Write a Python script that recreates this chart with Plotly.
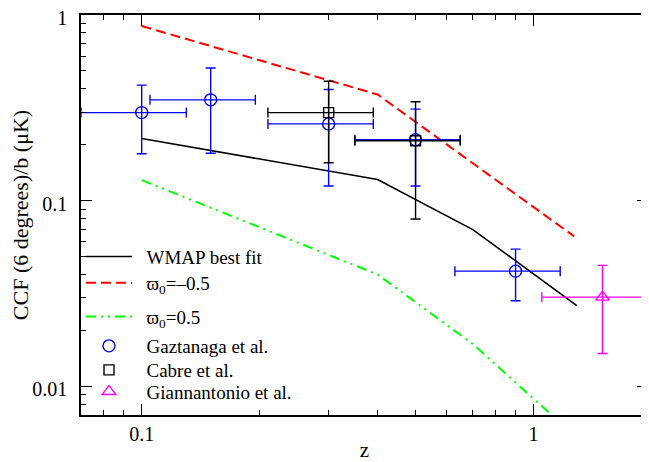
import math
import plotly.graph_objects as go

# ---- data ----
z_model_wmap = [0.1, 0.4, 0.7, 1.29]
ccf_wmap = [0.216, 0.130, 0.0698, 0.0272]

z_model_neg = [0.1, 0.4, 0.7, 1.27]
ccf_neg = [0.872, 0.373, 0.159, 0.0642]

z_model_pos = [0.1, 0.4, 0.7, 1.0, 1.3]
ccf_pos = [0.129, 0.040, 0.0169, 0.00855, 0.0052]

z_gaz = [0.1, 0.15, 0.3, 0.5, 0.9]
ccf_gaz = [0.298, 0.349, 0.259, 0.213, 0.0417]
zerr_gaz = [0.03, 0.045, 0.09, 0.15, 0.27]
ccf_gaz_hi = [0.419, 0.518, 0.397, 0.311, 0.0548]
ccf_gaz_lo = [0.179, 0.180, 0.120, 0.120, 0.0289]

z_cab = [0.3, 0.5]
ccf_cab = [0.298, 0.210]
zerr_cab = [0.09, 0.15]
ccf_cab_hi = [0.440, 0.341]
ccf_cab_lo = [0.160, 0.0796]

z_gia = [1.5]
ccf_gia = [0.0302]
zerr_gia = [0.45]
ccf_gia_hi = [0.0448]
ccf_gia_lo = [0.0150]

x_major = [0.1, 1]
x_major_text = ["0.1", "1"]
y_major = [0.01, 0.1, 1]
y_major_text = ["0.01", "0.1", "1"]

FONT = "Liberation Serif"
PAD = "\u00a0\u00a0"


def plus(hi, v):
    return [h - c for h, c in zip(hi, v)]


def minus(lo, v):
    return [c - l for l, c in zip(lo, v)]


fig = go.Figure()

fig.add_trace(go.Scatter(x=z_model_wmap, y=ccf_wmap, mode="lines",
                         name=PAD + "WMAP best fit", legend="legend",
                         line=dict(color="black", width=1.6)))
fig.add_trace(go.Scatter(x=z_model_neg, y=ccf_neg, mode="lines",
                         name=PAD + "ϖ<sub>0</sub>=–0.5", legend="legend2",
                         line=dict(color="#ff0000", width=2, dash="10px,5px")))
fig.add_trace(go.Scatter(x=z_model_pos, y=ccf_pos, mode="lines",
                         name=PAD + "ϖ<sub>0</sub>=0.5", legend="legend3",
                         line=dict(color="#00ff00", width=2,
                                   dash="10px,5px,2px,5px,2px,5px")))


def pts(x, y, xe, hi, lo, color, symbol, size, name, leg):
    return go.Scatter(
        x=x, y=y, mode="markers", name=PAD + name, legend=leg,
        marker=dict(symbol=symbol, size=size, color=color,
                    line=dict(color=color, width=1.4)),
        error_x=dict(type="data", array=xe, symmetric=True,
                     color=color, thickness=1.4, width=5),
        error_y=dict(type="data", array=plus(hi, y),
                     arrayminus=minus(lo, y), symmetric=False,
                     color=color, thickness=1.4, width=5),
    )


fig.add_trace(pts(z_gaz, ccf_gaz, zerr_gaz, ccf_gaz_hi, ccf_gaz_lo,
                  "#0000ff", "circle-open", 12, "Gaztanaga et al.", "legend4"))
fig.add_trace(pts(z_cab, ccf_cab, zerr_cab, ccf_cab_hi, ccf_cab_lo,
                  "black", "square-open", 10, "Cabre et al.", "legend5"))
fig.add_trace(pts(z_gia, ccf_gia, zerr_gia, ccf_gia_hi, ccf_gia_lo,
                  "#ff00ff", "triangle-up-open", 12, "Giannantonio et al.",
                  "legend6"))

x_minor = [0.08, 0.09] + [k / 10 for k in range(2, 10)] + [2]
y_minor = ([k / 1000 for k in range(7, 10)] + [k / 100 for k in range(2, 10)]
           + [k / 10 for k in range(2, 10)])

axis_common = dict(
    type="log", showgrid=False, zeroline=False, automargin=False,
    showline=True, linecolor="black", linewidth=1.6, mirror="allticks",
    ticks="inside", ticklen=11, tickwidth=1.4, tickcolor="black",
    ticklabeloverflow="allow",
    tickfont=dict(family=FONT, size=20, color="black"),
)

# legend row centres (window px) -> paper coords; plot spans 15..415 in window
row_px = [256.7, 283, 316.7, 346, 370, 391.7]


def legend_at(py):
    return dict(
        x=0.0, y=(415 - py) / 400, xanchor="left", yanchor="middle",
        bgcolor="rgba(0,0,0,0)", borderwidth=0,
        font=dict(family=FONT, size=19, color="black"),
        itemwidth=46,
    )


fig.update_layout(
    width=641, height=454,
    margin=dict(l=73, r=1, t=7, b=47),
    paper_bgcolor="white", plot_bgcolor="white",
    font=dict(family=FONT, color="black"),
    xaxis=dict(
        **axis_common,
        range=[math.log10(0.07), math.log10(1.96)],
        tickmode="array", tickvals=x_major, ticktext=x_major_text,
        ticklabelstandoff=0,
        minor=dict(tickmode="array", tickvals=x_minor, ticks="inside",
                   ticklen=5, tickwidth=1.2, tickcolor="black", showgrid=False),
        title=dict(text="z", font=dict(family=FONT, size=21), standoff=3),
    ),
    yaxis=dict(
        **axis_common,
        range=[math.log10(0.007), 0],
        tickmode="array", tickvals=y_major, ticktext=y_major_text,
        ticklabelstandoff=8, ticklabelshift=3,
        minor=dict(tickmode="array", tickvals=y_minor, ticks="inside",
                   ticklen=5, tickwidth=1.2, tickcolor="black", showgrid=False),
        title=dict(text="CCF (6 degrees)/b (μK)",
                   font=dict(family=FONT, size=22), standoff=12),
    ),
    legend=legend_at(row_px[0]),
    legend2=legend_at(row_px[1]),
    legend3=legend_at(row_px[2]),
    legend4=legend_at(row_px[3]),
    legend5=legend_at(row_px[4]),
    legend6=legend_at(row_px[5]),
    showlegend=True,
)

fig.write_html("out.html")
